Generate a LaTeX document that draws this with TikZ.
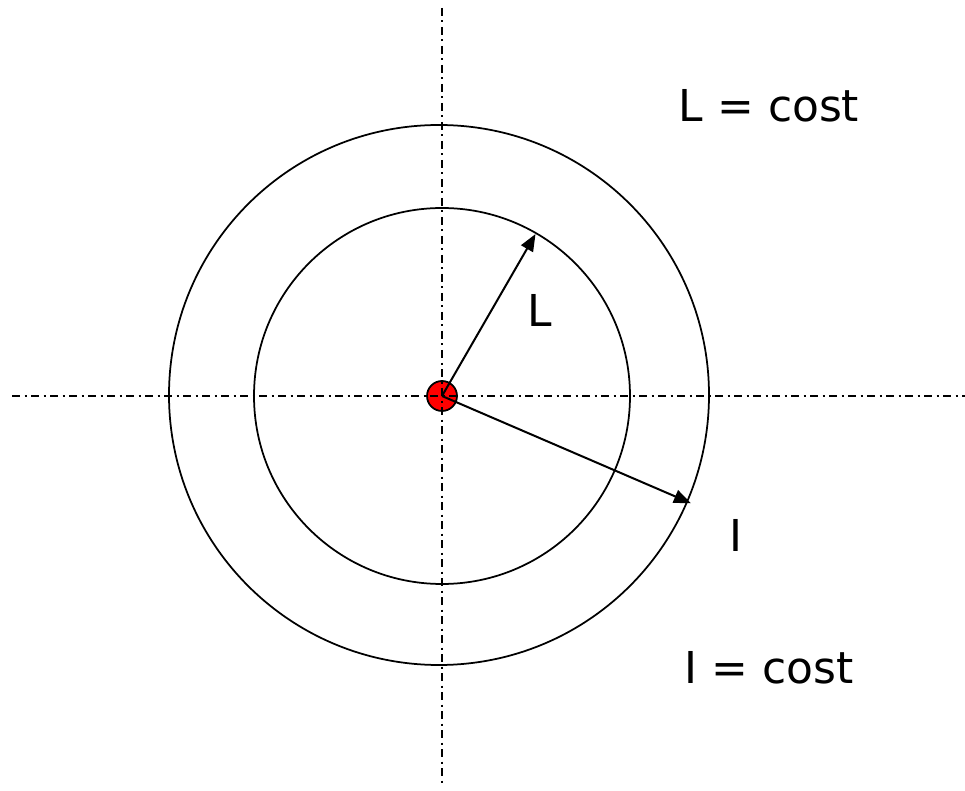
\documentclass[tikz,border=0pt]{standalone}
\usepackage{fontspec}
\setmainfont{DejaVu Sans}
\usetikzlibrary{arrows.meta, positioning}

\tikzset{
  axisline/.style={line width=0.3mm, dash pattern=on 1.6mm off 0.9mm on 0.4mm off 0.9mm},
  ring/.style={draw, circle, line width=0.35mm, inner sep=0pt},
  radius arrow/.style={line width=0.4mm, -{Triangle[length=3.4mm,width=2.7mm]}},
  label text/.style={font=\fontsize{25}{30}\selectfont, inner sep=0pt}
}

\begin{document}
\begin{tikzpicture}[x=0.2mm, y=-0.2mm]
    \useasboundingbox (0,0) rectangle (965,791);

    \coordinate (C) at (442,396);
    \node[ring, minimum size=376*0.2mm] (inner) at (C) {};
    \node[ring, minimum size=540*0.2mm] (outer) at (439,395) {};

    % center point
    \node[circle, draw, fill=red, line width=0.35mm, minimum size=30*0.2mm, inner sep=0pt] (dot) at (C) {};

    % axes
    \coordinate (top) at (442,8);
    \coordinate (bottom) at (442,785);
    \coordinate (left) at (12,396);
    \coordinate (right) at (965,396);
    \draw[axisline] (top) -- (bottom);
    \draw[axisline] (left) -- (right);

    % radii
    \path (C) ++(60:187*0.2mm) coordinate (Ltip);
    \path (C) ++(-23.3:271*0.2mm) coordinate (Itip);
    \draw[radius arrow] (C) -- (Ltip);
    \draw[radius arrow] (C) -- (Itip);

    \node[label text] (Llabel) at (540,310) {L};
    \node[label text] (Ilabel) at (736,535) {I};
    \node[label text] (Lcost) at (769,106) {L = cost};
    \node[label text] (Icost) at (769,668) {I = cost};
\end{tikzpicture}
\end{document}
